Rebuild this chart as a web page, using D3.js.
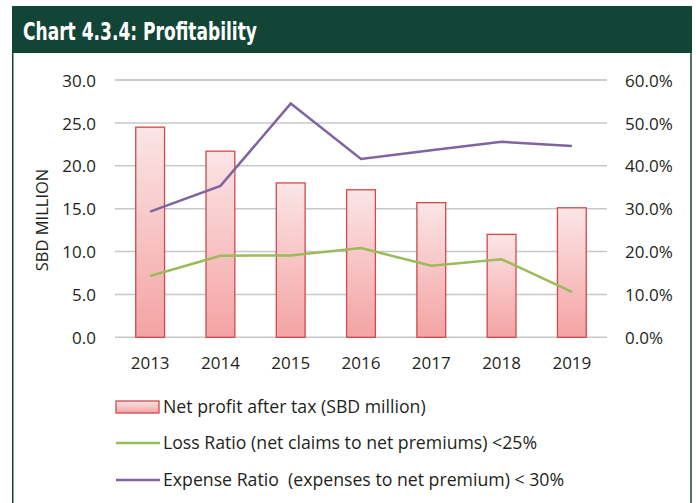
<!DOCTYPE html>
<html>
<head>
<meta charset="utf-8">
<script src="https://cdn.jsdelivr.net/npm/d3@7"></script>
<style>
  body { margin: 0; background: #fff; }
  svg { display: block; }
  text { font-family: "Open Sans", "Noto Sans", sans-serif; fill: #231f20; }
</style>
</head>
<body>
<svg id="chart" width="696" height="503"></svg>
<script>
// data
var years = ["2013", "2014", "2015", "2016", "2017", "2018", "2019"];
var netProfit = [24.5, 21.7, 18.0, 17.2, 15.7, 12.0, 15.1];
var lossRatio = [14.3, 19.0, 19.1, 20.8, 16.7, 18.2, 10.6];
var expenseRatio = [29.3, 35.3, 54.5, 41.6, 43.6, 45.6, 44.6];
var leftTicks = [0, 5, 10, 15, 20, 25, 30];
var rightTicks = [0, 10, 20, 30, 40, 50, 60];
var legendLabels = [
    "Net profit after tax (SBD million)",
    "Loss Ratio (net claims to net premiums) <25%",
    "Expense Ratio  (expenses to net premium) < 30%"
];

var green = "#134537";
var svg = d3.select("#chart");

// frame and header band
svg.append("rect").attr("x", 12).attr("y", 6).attr("width", 680).attr("height", 47).attr("fill", green);
svg.append("line").attr("x1", 12.75).attr("x2", 12.75).attr("y1", 6).attr("y2", 503)
    .attr("stroke", green).attr("stroke-width", 1.5);
svg.append("line").attr("x1", 691).attr("x2", 691).attr("y1", 6).attr("y2", 503)
    .attr("stroke", green).attr("stroke-width", 1.5);

svg.append("text")
    .attr("x", 23).attr("y", 40)
    .attr("textLength", 234).attr("lengthAdjust", "spacingAndGlyphs")
    .style("font-family", "'Liberation Sans Narrow', 'DejaVu Sans Condensed', sans-serif")
    .style("font-weight", "bold").style("font-size", "24px").style("fill", "#fff")
    .text("Chart 4.3.4: Profitability");

// scales
var x = d3.scaleBand().domain(years).range([115, 607]).paddingInner(0.59).paddingOuter(0.295);
var xc = function (d) { return x(d) + x.bandwidth() / 2; };
var yL = d3.scaleLinear().domain([0, 30]).range([337.3, 80]);
var yR = d3.scaleLinear().domain([0, 60]).range([337.3, 80]);

// gridlines
svg.append("g").selectAll("line").data(leftTicks).join("line")
    .attr("x1", 115).attr("x2", 607)
    .attr("y1", function (d) { return yL(d); }).attr("y2", function (d) { return yL(d); })
    .attr("stroke", function (d) { return d == 30 ? "#bcb8c8" : "#c8c8c8"; })
    .attr("stroke-width", 1.5);

// left axis
var leftAxis = svg.append("g").attr("transform", "translate(96,0)")
    .call(d3.axisLeft(yL).tickValues(leftTicks).tickSize(0).tickPadding(0).tickFormat(d3.format(".1f")));
leftAxis.select(".domain").remove();
leftAxis.selectAll("text").style("font-size", "17px").style("font-family", null).attr("fill", "#231f20").attr("dy", "0.36em");

// right axis
var rightAxis = svg.append("g").attr("transform", "translate(625,0)")
    .call(d3.axisRight(yR).tickValues(rightTicks).tickSize(0).tickPadding(0)
        .tickFormat(function (d) { return d.toFixed(1) + "%"; }));
rightAxis.select(".domain").remove();
rightAxis.selectAll("text").style("font-size", "17px").style("font-family", null).attr("fill", "#231f20").attr("dy", "0.36em");

// bottom axis labels
var bottomAxis = svg.append("g").attr("transform", "translate(0,350)")
    .call(d3.axisBottom(x).tickSize(0).tickPadding(0));
bottomAxis.select(".domain").remove();
bottomAxis.selectAll("text").style("font-size", "17px").style("font-family", null).attr("fill", "#231f20").attr("dy", "1.1em");

// y axis title
svg.append("text")
    .attr("transform", "translate(48,220) rotate(-90)")
    .attr("text-anchor", "middle")
    .style("font-size", "16.5px")
    .text("SBD MILLION");

// bar gradient
var defs = svg.append("defs");
var grad = defs.append("linearGradient").attr("id", "barGrad")
    .attr("x1", 0).attr("x2", 0).attr("y1", 0).attr("y2", 1);
grad.append("stop").attr("offset", "0%").attr("stop-color", "#fbe5e6");
grad.append("stop").attr("offset", "100%").attr("stop-color", "#f4a3a3");

// bars
svg.append("g").selectAll("rect").data(netProfit).join("rect")
    .attr("x", function (d, i) { return x(years[i]); })
    .attr("width", x.bandwidth())
    .attr("y", function (d) { return yL(d); })
    .attr("height", function (d) { return yL(0) - yL(d); })
    .attr("fill", "url(#barGrad)")
    .attr("stroke", "#d0494b").attr("stroke-width", 1.3);

// lines
var line = d3.line()
    .x(function (d, i) { return xc(years[i]); })
    .y(function (d) { return yR(d); });

svg.append("path").datum(lossRatio)
    .attr("d", line).attr("fill", "none")
    .attr("stroke", "#9bbb59").attr("stroke-width", 2.5);

svg.append("path").datum(expenseRatio)
    .attr("d", line).attr("fill", "none")
    .attr("stroke", "#8064a2").attr("stroke-width", 2.5);

// legend
var legendY = [407, 443, 480];
var legend = svg.append("g");
legend.append("rect").attr("x", 116).attr("y", 401).attr("width", 43).attr("height", 12)
    .attr("fill", "url(#barGrad)").attr("stroke", "#d0494b").attr("stroke-width", 1.3);
legend.append("line").attr("x1", 116).attr("x2", 160).attr("y1", legendY[1]).attr("y2", legendY[1])
    .attr("stroke", "#9bbb59").attr("stroke-width", 2.5);
legend.append("line").attr("x1", 116).attr("x2", 160).attr("y1", legendY[2]).attr("y2", legendY[2])
    .attr("stroke", "#8064a2").attr("stroke-width", 2.5);

legend.selectAll("text").data(legendLabels).join("text")
    .attr("x", 163)
    .attr("y", function (d, i) { return legendY[i]; })
    .attr("dy", "0.36em")
    .style("font-size", "17.7px")
    .style("white-space", "pre")
    .text(function (d) { return d; });
</script>
</body>
</html>
